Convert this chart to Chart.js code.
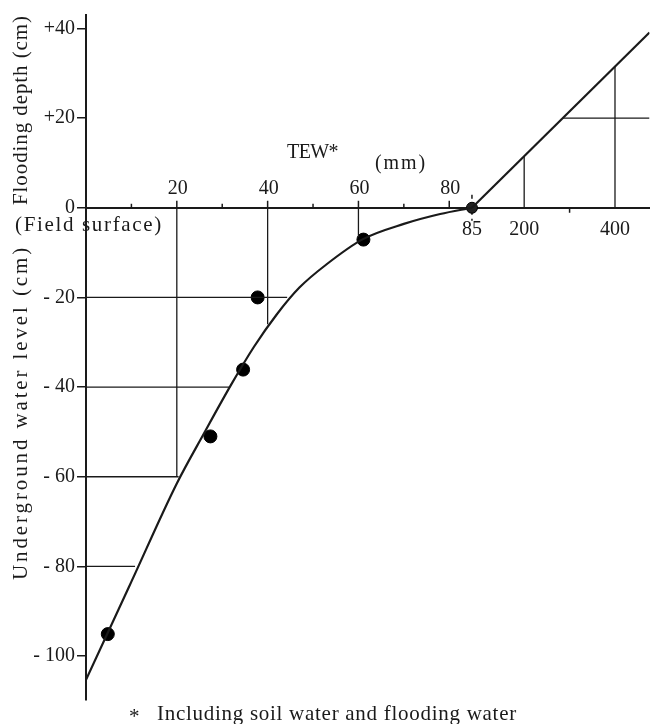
<!DOCTYPE html>
<html>
<head>
<meta charset="utf-8">
<script src="https://cdn.jsdelivr.net/npm/chart.js@4.4.1/dist/chart.umd.min.js"></script>
<style>
  html, body { margin: 0; padding: 0; background: #fff; }
  #wrap { width: 657px; height: 724px; }
</style>
</head>
<body>
<div id="wrap"><canvas id="tewChart"></canvas></div>
<script>
// TEW axis is squeezed 10x beyond 85 mm (field surface point)
const BREAK = 85;
const SQUEEZE = 10;
const toU = t => (t <= BREAK ? t : BREAK + (t - BREAK) / SQUEEZE);

// smooth curve (TEW mm, water level cm)
const curveTEW   = [0, 10, 20, 26, 32, 37, 42, 47, 53, 61, 70, 78, 85];
const curveLevel = [-105.3, -83.4, -61.5, -50.3, -39.4, -31, -23.8, -17.8, -12.6, -7.0, -3.6, -1.4, 0];

// flooding part (straight line above field surface)
const floodTEW   = [85, 476];
const floodDepth = [0, 39.1];

// observed points
const obsTEW   = [4.8, 27.4, 34.6, 37.8, 61.1];
const obsLevel = [-95.1, -51, -36.1, -20, -7.1];
const surfaceTEW = 85;

// reading lines
const vGuideTEW   = [20, 40, 60, 200, 400];
const vGuideLevel = [-60, -26, -6.5, 11.5, 31.5];
const hGuideLevel = [-20, -40, -60, -80, 20];
const hGuideFrom  = [0, 0, 0, 0, 285];
const hGuideTo    = [44.3, 31.5, 20.4, 10.8, 476];

// tick labels
const yTicks = [-100, -80, -60, -40, -20, 0, 20, 40];
const xTopLabels = [20, 40, 60, 80];
const xBottomLabels = [85, 200, 400];
const xMinorTicks = [10, 30, 50, 70];

const SERIF = "'Liberation Serif', 'DejaVu Serif', serif";
const INK = '#1a1a1a';

const guides = [];
vGuideTEW.forEach((t, i) => guides.push([{ x: toU(t), y: 0 }, { x: toU(t), y: vGuideLevel[i] }]));
hGuideLevel.forEach((lv, i) => guides.push([{ x: toU(hGuideFrom[i]), y: lv }, { x: toU(hGuideTo[i]), y: lv }]));

const datasets = guides.map(pts => ({
  type: 'line', data: pts, borderColor: INK, borderWidth: 1.3,
  pointRadius: 0, fill: false, tension: 0
}));

datasets.push({
  type: 'line',
  data: curveTEW.map((t, i) => ({ x: toU(t), y: curveLevel[i] })),
  borderColor: INK, borderWidth: 2.2, pointRadius: 0, fill: false,
  cubicInterpolationMode: 'monotone'
});
datasets.push({
  type: 'line',
  data: floodTEW.map((t, i) => ({ x: toU(t), y: floodDepth[i] })),
  borderColor: INK, borderWidth: 2.2, pointRadius: 0, fill: false
});
datasets.push({
  type: 'scatter',
  data: obsTEW.map((t, i) => ({ x: toU(t), y: obsLevel[i] })),
  backgroundColor: '#000', borderColor: '#000', pointRadius: 6.5
});
datasets.push({
  type: 'scatter',
  data: [{ x: toU(surfaceTEW), y: 0 }],
  backgroundColor: '#222', borderColor: '#000', pointRadius: 5.5
});

// draw text stretched to the width it has in the scan
function spaced(ctx, text, x, y, width) {
  ctx.letterSpacing = '0px';
  const w = ctx.measureText(text).width;
  ctx.letterSpacing = ((width - w) / text.length).toFixed(2) + 'px';
  ctx.fillText(text, x, y);
  ctx.letterSpacing = '0px';
}

const decorations = {
  id: 'decorations',
  beforeDatasetsDraw(chart) {
    const { ctx, scales: { x, y } } = chart;
    const y0 = y.getPixelForValue(0);
    ctx.save();
    ctx.strokeStyle = INK;
    ctx.lineWidth = 1.5;
    const tick = (t, up, down) => {
      const px = x.getPixelForValue(toU(t));
      ctx.beginPath();
      ctx.moveTo(px, y0 - up);
      ctx.lineTo(px, y0 + down);
      ctx.stroke();
    };
    xMinorTicks.forEach(t => tick(t, 4, 0));
    xTopLabels.forEach(t => tick(t, 7, 0));
    tick(300, 0, 5);
    ctx.setLineDash([4, 4]);
    tick(surfaceTEW, 13, 13);
    ctx.restore();
  },
  afterDatasetsDraw(chart) {
    const { ctx, scales: { x, y } } = chart;
    const y0 = y.getPixelForValue(0);
    ctx.save();
    ctx.fillStyle = INK;
    ctx.font = '20px ' + SERIF;
    ctx.textAlign = 'center';
    ctx.textBaseline = 'middle';
    xTopLabels.forEach(t => ctx.fillText(String(t), x.getPixelForValue(toU(t)) + 1, y0 - 19));
    xBottomLabels.forEach(t => ctx.fillText(String(t), x.getPixelForValue(toU(t)), y0 + 22));

    ctx.textAlign = 'left';
    spaced(ctx, 'TEW*', 287, 153, 51);
    spaced(ctx, '(mm)', 375, 164, 52);
    ctx.font = '21px ' + SERIF;
    spaced(ctx, '(Field surface)', 15, 225, 148);

    // axis titles
    ctx.save();
    ctx.translate(21, 205);
    ctx.rotate(-Math.PI / 2);
    spaced(ctx, 'Flooding depth (cm)', 0, 0, 190);
    ctx.restore();
    ctx.save();
    ctx.translate(21, 580);
    ctx.rotate(-Math.PI / 2);
    spaced(ctx, 'Underground water level (cm)', 0, 0, 335);
    ctx.restore();

    // footnote
    ctx.fillText('*', 129, 717);
    spaced(ctx, 'Including soil water and flooding water', 157, 714, 360);
    ctx.restore();
  }
};

new Chart(document.getElementById('tewChart').getContext('2d'), {
  data: { datasets },
  options: {
    responsive: true,
    maintainAspectRatio: false,
    animation: false,
    layout: { padding: { top: 15, bottom: 24, left: 0, right: 0 } },
    plugins: { legend: { display: false }, tooltip: { enabled: false } },
    scales: {
      x: {
        type: 'linear',
        position: { y: 0 },
        min: 0,
        max: 124.1,
        ticks: { display: false },
        grid: { drawOnChartArea: false, drawTicks: false },
        border: { display: true, color: INK, width: 2 }
      },
      y: {
        type: 'linear',
        position: 'left',
        min: -109.8,
        max: 43,
        afterBuildTicks: s => { s.ticks = yTicks.map(v => ({ value: v })); },
        afterFit: s => { s.width = 86; },
        ticks: {
          color: INK,
          padding: 2,
          font: { family: SERIF, size: 20 },
          callback: v => (v > 0 ? '+' + v : v < 0 ? '- ' + (-v) : '0')
        },
        grid: { drawOnChartArea: false, tickLength: 9, color: INK, lineWidth: 1.5 },
        border: { display: true, color: INK, width: 2 }
      }
    }
  },
  plugins: [decorations]
});
</script>
</body>
</html>
